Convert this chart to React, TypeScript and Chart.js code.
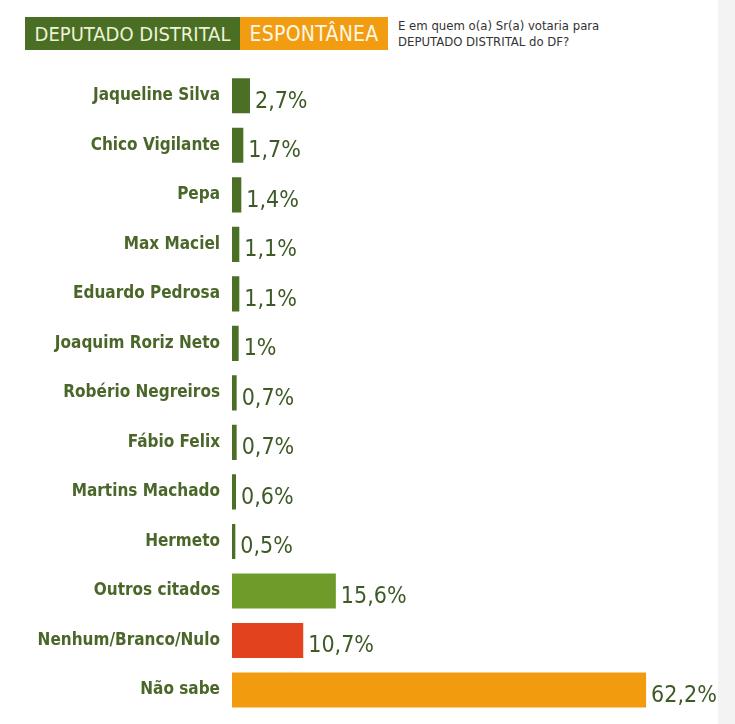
import React, { useEffect, useRef } from "react";
import { Chart, registerables } from "chart.js";

Chart.register(...registerables);

const categories = [
  "Jaqueline Silva",
  "Chico Vigilante",
  "Pepa",
  "Max Maciel",
  "Eduardo Pedrosa",
  "Joaquim Roriz Neto",
  "Robério Negreiros",
  "Fábio Felix",
  "Martins Machado",
  "Hermeto",
  "Outros citados",
  "Nenhum/Branco/Nulo",
  "Não sabe",
];
const values = [2.7, 1.7, 1.4, 1.1, 1.1, 1, 0.7, 0.7, 0.6, 0.5, 15.6, 10.7, 62.2];

const DARK = "#4b6f24";
const barColors = [
  DARK, DARK, DARK, DARK, DARK, DARK, DARK, DARK, DARK, DARK,
  "#6e9c2a", "#e2421d", "#f39b0f",
];

const FONT = '"Liberation Sans Narrow", "DejaVu Sans Condensed", "Roboto Condensed", Roboto, sans-serif';

const fmt = (v: number) => v.toLocaleString("pt-BR", { maximumFractionDigits: 1 }) + "%";

const valueLabels = {
  id: "valueLabels",
  afterDatasetsDraw(chart: any) {
    const ctx = chart.ctx;
    const meta = chart.getDatasetMeta(0);
    ctx.save();
    ctx.font = `23px ${FONT}`;
    ctx.fillStyle = "#3e5a26";
    ctx.textAlign = "left";
    ctx.textBaseline = "middle";
    meta.data.forEach((bar: any, i: number) => {
      ctx.fillText(fmt(values[i]), bar.x + 5, bar.y + 6);
    });
    ctx.restore();
  },
};

export default function App() {
  const ref = useRef<HTMLCanvasElement>(null);
  useEffect(() => {
    if (!ref.current) return;
    const chart = new Chart(ref.current, {
      type: "bar",
      data: {
        labels: categories,
        datasets: [
          {
            data: values,
            backgroundColor: barColors,
            barPercentage: 0.71,
            categoryPercentage: 1,
          },
        ],
      },
      options: {
        indexAxis: "y",
        animation: false,
        responsive: false,
        layout: { padding: { top: 71, bottom: 0, left: 0, right: 37 } },
        plugins: { legend: { display: false }, tooltip: { enabled: false } },
        scales: {
          x: { display: false, min: 0, max: 70 },
          y: {
            grid: { display: false },
            border: { display: false },
            afterFit: (scale: any) => {
              scale.width = 232;
            },
            ticks: {
              padding: 4,
              color: "#4a6629",
              font: { family: FONT, size: 17, weight: "bold" },
            },
          },
        },
      },
      plugins: [valueLabels],
    });
    return () => chart.destroy();
  }, []);

  return (
    <div style={{ position: "fixed", left: 0, top: 0, width: 735, height: 724, background: "#fff", overflow: "hidden" }}>
      <div style={{ position: "absolute", left: 718, top: 0, width: 17, height: 724, background: "#f3f3f3" }} />
      <div
        style={{
          position: "absolute", left: 25, top: 17, width: 215, height: 33, background: "#4a6e24",
          color: "#eef3d8", font: `20px ${FONT}`, display: "flex", alignItems: "center", justifyContent: "center",
        }}
      >
        DEPUTADO DISTRITAL
      </div>
      <div
        style={{
          position: "absolute", left: 240, top: 17, width: 148, height: 33, background: "#f29c12",
          color: "#fff7e6", font: `21px ${FONT}`, letterSpacing: "0.3px", display: "flex", alignItems: "center", justifyContent: "center",
        }}
      >
        ESPONTÂNEA
      </div>
      <div
        style={{
          position: "absolute", left: 398, top: 18, color: "#333", font: `13px ${FONT}`, lineHeight: "16px",
        }}
      >
        E em quem o(a) Sr(a) votaria para
        <br />
        DEPUTADO DISTRITAL do DF?
      </div>
      <canvas ref={ref} width={735} height={729} style={{ position: "absolute", left: 0, top: 0 }} />
    </div>
  );
}
